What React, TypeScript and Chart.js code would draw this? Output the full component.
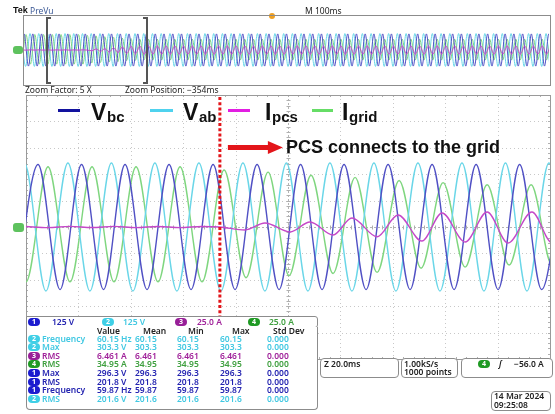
import React, { useEffect, useRef } from "react";
import { Chart, registerables } from "chart.js";

Chart.register(...registerables);

// ---------- scope settings ----------
const MAIN_DIVS_X = 10;
const MAIN_DIVS_Y = 10;
const MAIN_MS_SPAN = 200; // 20 ms/div
const PREVIEW_MS_SPAN = 1000; // 100 ms/div
const VOLTS_PER_DIV = 125;
const AMPS_PER_DIV = 25;
const CONNECT_MS = 74;

// ---------- zoomed window: extremes (ms, value) ----------
const VBC_T = [-3.8, 4.6, 13.0, 21.2, 29.6, 37.8, 46.2, 54.6, 63.0, 71.4, 79.8, 88.2, 96.6, 104.8, 113.0, 121.4, 129.8, 138.2, 146.6, 155.0, 163.4, 171.8, 180.2, 188.4, 196.8, 205.2];
const VBC_V = [-296, 296, -296, 296, -296, 296, -296, 296, -296, 296, -296, 296, -296, 296, -296, 296, -296, 296, -296, 296, -296, 296, -296, 296, -296, 296];

const VAB_T = [-8.9, -0.6, 7.6, 16.0, 24.4, 32.6, 40.8, 49.2, 57.6, 66.0, 74.4, 82.8, 91.2, 99.4, 107.6, 116.0, 124.4, 132.8, 141.2, 149.6, 158.0, 166.4, 174.8, 183.0, 191.2, 199.6, 207.6];
const VAB_V = [-303, 303, -303, 303, -303, 303, -303, 303, -303, 303, -303, 303, -303, 303, -303, 303, -303, 303, -303, 303, -303, 303, -303, 303, -303, 303, -303];

const IGRID_T = [-8.4, 0, 8.4, 16.8, 25.2, 33.6, 42.0, 50.4, 58.8, 67.2, 75.6, 84.0, 92.4, 100.4, 108.8, 117.2, 125.6, 134.0, 142.4, 150.8, 159.2, 167.6, 176.0, 184.4, 192.8, 200.8, 209.2];
const IGRID_A = [57, -52, 57, -52, 57, -52, 57, -52, 57, -52, 54, -48, 52, -46, 49, -44, 47, -43, 44, -39, 42, -38, 40, -36, 40, -36, 40];

const IPCS_T = [0, 8.4, 16.8, 25.2, 33.6, 42.0, 50.4, 58.8, 67.2, 74.0, 83.6, 91.2, 100.8, 108.4, 117.2, 124.4, 134.0, 142.0, 151.1, 158.8, 167.6, 176.0, 184.0, 193.1, 200.8, 209.0];
const IPCS_A = [0.5, -0.6, 0.6, -0.5, 0.6, -0.6, 0.5, -0.6, 0.5, 0, -2.8, 3.8, -4.7, 4.7, -7.6, 8.5, -9.2, 11.4, -13.3, 13.3, -14.2, 14.2, -15.2, 14.2, -15, 14.5];

// ---------- full record preview: successive extremes, one every half cycle ----------
const PREVIEW_HALF_MS = 8.33;
const PREVIEW_VBC_START = -8.2;
const PREVIEW_VAB_START = -5.2;
const PREVIEW_IGRID_START = -4.4;
const PREVIEW_IPCS_START = -4.2;
const PREVIEW_VBC = [
  -296, 296, -296, 296, -296, 296, -296, 296, -296, 296, -296, 296, -296, 296, -296, 296, -296, 296, -296, 296,
  -296, 296, -296, 296, -296, 296, -296, 296, -296, 296, -296, 296, -296, 296, -296, 296, -296, 296, -296, 296,
  -296, 296, -296, 296, -296, 296, -296, 296, -296, 296, -296, 296, -296, 296, -296, 296, -296, 296, -296, 296,
  -296, 296, -296, 296, -296, 296, -296, 296, -296, 296, -296, 296, -296, 296, -296, 296, -296, 296, -296, 296,
  -296, 296, -296, 296, -296, 296, -296, 296, -296, 296, -296, 296, -296, 296, -296, 296, -296, 296, -296, 296,
  -296, 296, -296, 296, -296, 296, -296, 296, -296, 296, -296, 296, -296, 296, -296, 296, -296, 296, -296, 296,
  -296, 296, -296, 296,
];
const PREVIEW_VAB = [
  303, -303, 303, -303, 303, -303, 303, -303, 303, -303, 303, -303, 303, -303, 303, -303, 303, -303, 303, -303,
  303, -303, 303, -303, 303, -303, 303, -303, 303, -303, 303, -303, 303, -303, 303, -303, 303, -303, 303, -303,
  303, -303, 303, -303, 303, -303, 303, -303, 303, -303, 303, -303, 303, -303, 303, -303, 303, -303, 303, -303,
  303, -303, 303, -303, 303, -303, 303, -303, 303, -303, 303, -303, 303, -303, 303, -303, 303, -303, 303, -303,
  303, -303, 303, -303, 303, -303, 303, -303, 303, -303, 303, -303, 303, -303, 303, -303, 303, -303, 303, -303,
  303, -303, 303, -303, 303, -303, 303, -303, 303, -303, 303, -303, 303, -303, 303, -303, 303, -303, 303, -303,
  303, -303, 303, -303,
];
const PREVIEW_IGRID = [
  -52, 57, -52, 57, -52, 57, -52, 57, -52, 57, -52, 57, -52, 57, -52,
  54, -48, 52, -46, 49, -44, 47, -43, 44, -39, 42, -38, 40, -36, 40,
  -37, 40, -37, 40, -37, 40, -37, 40, -37, 40, -37, 40, -37, 40, -37, 40, -37, 40, -37, 40,
  -37, 40, -37, 40, -37, 40, -37, 40, -37, 40, -37, 40, -37, 40, -37, 40, -37, 40, -37, 40,
  -37, 40, -37, 40, -37, 40, -37, 40, -37, 40, -37, 40, -37, 40, -37, 40, -37, 40, -37, 40,
  -37, 40, -37, 40, -37, 40, -37, 40, -37, 40, -37, 40, -37, 40, -37, 40, -37, 40, -37, 40,
  -37, 40, -37, 40, -37, 40, -37, 40, -37, 40, -37, 40, -37, 40,
];
const PREVIEW_IPCS = [
  0.5, -0.6, 0.6, -0.5, 0.6, -0.6, 0.5, -0.6, 0.5, -0.5, 0.6, -0.6, 0.5, -0.5, 0.6, -0.4,
  -2.8, 3.8, -4.7, 4.7, -7.6, 8.5, -9.2, 11.4, -13.3, 13.3, -14.2, 14.2, -15.2, 14.2,
  -15, 14.5, -15, 14.5, -15, 14.5, -15, 14.5, -15, 14.5, -15, 14.5, -15, 14.5, -15, 14.5, -15, 14.5, -15, 14.5,
  -15, 14.5, -15, 14.5, -15, 14.5, -15, 14.5, -15, 14.5, -15, 14.5, -15, 14.5, -15, 14.5, -15, 14.5, -15, 14.5,
  -15, 14.5, -15, 14.5, -15, 14.5, -15, 14.5, -15, 14.5, -15, 14.5, -15, 14.5, -15, 14.5, -15, 14.5, -15, 14.5,
  -15, 14.5, -15, 14.5, -15, 14.5, -15, 14.5, -15, 14.5, -15, 14.5, -15, 14.5, -15, 14.5, -15, 14.5, -15, 14.5,
  -15, 14.5, -15, 14.5, -15, 14.5, -15, 14.5, -15, 14.5, -15, 14.5, -15, 14.5,
];

// ---------- readouts ----------
const CHANNEL_SCALES = ["125 V", "125 V", "25.0 A", "25.0 A"];
const MEAS_HEADERS = ["Value", "Mean", "Min", "Max", "Std Dev"];
const MEAS_CH = [2, 2, 3, 4, 1, 1, 1, 2];
const MEAS_NAME = ["Frequency", "Max", "RMS", "RMS", "Max", "RMS", "Frequency", "RMS"];
const MEAS_VALUE = ["60.15 Hz", "303.3 V", "6.461 A", "34.95 A", "296.3 V", "201.8 V", "59.87 Hz", "201.6 V"];
const MEAS_MEAN = ["60.15", "303.3", "6.461", "34.95", "296.3", "201.8", "59.87", "201.6"];
const MEAS_MIN = ["60.15", "303.3", "6.461", "34.95", "296.3", "201.8", "59.87", "201.6"];
const MEAS_MAX = ["60.15", "303.3", "6.461", "34.95", "296.3", "201.8", "59.87", "201.6"];
const MEAS_STD = ["0.000", "0.000", "0.000", "0.000", "0.000", "0.000", "0.000", "0.000"];

// ---------- colours ----------
const TRACE = { vbc: "#5050c4", vab: "#6ad6e8", ipcs: "#c548c8", igrid: "#7fd67f" };
const BADGE: Record<number, string> = { 1: "#1b1bcf", 2: "#3fcfe6", 3: "#981f98", 4: "#1f9a24" };
const CHTXT: Record<number, string> = { 1: "#2323b0", 2: "#40c8e2", 3: "#a0229a", 4: "#3fa03f" };
const FONT = "'Noto Sans', 'DejaVu Sans', sans-serif";
const BOLD = "'Liberation Sans', Arial, sans-serif";

function pts(ts: number[], vs: number[], perDiv: number) {
  return ts.map((t, i) => ({ x: t, y: vs[i] / perDiv }));
}
function seq(start: number, vs: number[], perDiv: number) {
  return vs.map((v, i) => ({ x: start + i * PREVIEW_HALF_MS, y: v / perDiv }));
}
function ds(label: string, data: any[], color: string, order: number, width: number) {
  return {
    label,
    data,
    borderColor: color,
    borderWidth: width,
    pointRadius: 0,
    cubicInterpolationMode: "monotone" as const,
    fill: false,
    order,
  };
}

const graticule = {
  id: "graticule",
  beforeDatasetsDraw(chart: any) {
    const { ctx, chartArea: a } = chart;
    const dx = (a.right - a.left) / MAIN_DIVS_X;
    const dy = (a.bottom - a.top) / MAIN_DIVS_Y;
    const cx = Math.round(a.left + dx * (MAIN_DIVS_X / 2)) + 0.5;
    const cy = Math.round(a.top + dy * (MAIN_DIVS_Y / 2)) + 0.5;
    ctx.save();
    ctx.lineWidth = 1;
    ctx.strokeStyle = "#c8c8c8";
    ctx.setLineDash([1, 3]);
    ctx.beginPath();
    for (let i = 1; i < MAIN_DIVS_X; i++) {
      const x = Math.round(a.left + i * dx) + 0.5;
      ctx.moveTo(x, a.top);
      ctx.lineTo(x, a.bottom);
    }
    for (let j = 1; j < MAIN_DIVS_Y; j++) {
      const y = Math.round(a.top + j * dy) + 0.5;
      ctx.moveTo(a.left, y);
      ctx.lineTo(a.right, y);
    }
    ctx.stroke();
    ctx.setLineDash([2, 2]);
    ctx.strokeStyle = "#b4b4b4";
    ctx.beginPath();
    ctx.moveTo(a.left, cy);
    ctx.lineTo(a.right, cy);
    ctx.moveTo(cx, a.top);
    ctx.lineTo(cx, a.bottom);
    ctx.stroke();
    ctx.setLineDash([]);
    ctx.strokeStyle = "#b0b0b0";
    ctx.beginPath();
    for (let k = 1; k < MAIN_DIVS_X * 5; k++) {
      const x = Math.round(a.left + (k * dx) / 5) + 0.5;
      ctx.moveTo(x, cy - 2);
      ctx.lineTo(x, cy + 2);
      ctx.moveTo(x, a.top);
      ctx.lineTo(x, a.top + 2);
      ctx.moveTo(x, a.bottom - 2);
      ctx.lineTo(x, a.bottom);
    }
    for (let k = 1; k < MAIN_DIVS_Y * 5; k++) {
      const y = Math.round(a.top + (k * dy) / 5) + 0.5;
      ctx.moveTo(cx - 2, y);
      ctx.lineTo(cx + 2, y);
      ctx.moveTo(a.left, y);
      ctx.lineTo(a.left + 2, y);
      ctx.moveTo(a.right - 2, y);
      ctx.lineTo(a.right, y);
    }
    ctx.stroke();
    ctx.strokeStyle = "#9a9a9a";
    ctx.strokeRect(Math.round(a.left) + 0.5, Math.round(a.top) + 0.5, Math.round(a.right - a.left), Math.round(a.bottom - a.top));
    ctx.restore();
  },
};

const connectMarker = {
  id: "connectMarker",
  afterDatasetsDraw(chart: any) {
    const { ctx, chartArea: a } = chart;
    const x = chart.scales.x.getPixelForValue(CONNECT_MS);
    ctx.save();
    ctx.strokeStyle = "#e3151a";
    ctx.lineWidth = 3;
    ctx.setLineDash([3, 2.2]);
    ctx.beginPath();
    ctx.moveTo(x, a.top + 2);
    ctx.lineTo(x, a.bottom);
    ctx.stroke();
    ctx.setLineDash([]);
    const y = a.top + 52.5;
    ctx.fillStyle = "#e3151a";
    ctx.fillRect(x + 8, y - 2.5, 42, 5);
    ctx.beginPath();
    ctx.moveTo(x + 48, y - 6.5);
    ctx.lineTo(x + 63, y);
    ctx.lineTo(x + 48, y + 6.5);
    ctx.closePath();
    ctx.fill();
    ctx.restore();
  },
};

const abs = (left: number, top: number, extra: React.CSSProperties = {}): React.CSSProperties => ({
  position: "absolute",
  left,
  top,
  whiteSpace: "nowrap",
  ...extra,
});

function Badge({ ch, left, top }: { ch: number; left: number; top: number }) {
  return (
    <div
      style={abs(left, top, {
        width: 12,
        height: 8,
        borderRadius: 4,
        background: BADGE[ch],
        color: "#fff",
        fontSize: 7,
        lineHeight: "8px",
        textAlign: "center",
        fontFamily: FONT,
        fontWeight: "bold",
      })}
    >
      {ch}
    </div>
  );
}

export default function App() {
  const mainRef = useRef<HTMLCanvasElement>(null);
  const prevRef = useRef<HTMLCanvasElement>(null);

  useEffect(() => {
    const main = new Chart(mainRef.current as HTMLCanvasElement, {
      type: "line",
      data: {
        datasets: [
          ds("Ipcs", pts(IPCS_T, IPCS_A, AMPS_PER_DIV), TRACE.ipcs, 0, 1.4),
          ds("Vbc", pts(VBC_T, VBC_V, VOLTS_PER_DIV), TRACE.vbc, 1, 1.4),
          ds("Vab", pts(VAB_T, VAB_V, VOLTS_PER_DIV), TRACE.vab, 2, 1.4),
          ds("Igrid", pts(IGRID_T, IGRID_A, AMPS_PER_DIV), TRACE.igrid, 3, 1.4),
        ],
      },
      options: {
        animation: false,
        responsive: false,
        devicePixelRatio: 1,
        events: [],
        layout: { padding: { left: 26, top: 95, right: 5, bottom: 55 } },
        plugins: { legend: { display: false }, tooltip: { enabled: false } },
        scales: {
          x: { type: "linear", min: 0, max: MAIN_MS_SPAN, display: false },
          y: { type: "linear", min: -MAIN_DIVS_Y / 2, max: MAIN_DIVS_Y / 2, display: false },
        },
      },
      plugins: [graticule, connectMarker],
    });
    const prev = new Chart(prevRef.current as HTMLCanvasElement, {
      type: "line",
      data: {
        datasets: [
          ds("Ipcs", seq(PREVIEW_IPCS_START, PREVIEW_IPCS, AMPS_PER_DIV), TRACE.ipcs, 0, 1),
          ds("Vbc", seq(PREVIEW_VBC_START, PREVIEW_VBC, VOLTS_PER_DIV), TRACE.vbc, 1, 1),
          ds("Igrid", seq(PREVIEW_IGRID_START, PREVIEW_IGRID, AMPS_PER_DIV), TRACE.igrid, 2, 1),
          ds("Vab", seq(PREVIEW_VAB_START, PREVIEW_VAB, VOLTS_PER_DIV), TRACE.vab, 3, 1),
        ],
      },
      options: {
        animation: false,
        responsive: false,
        devicePixelRatio: 1,
        events: [],
        layout: { padding: 0 },
        plugins: { legend: { display: false }, tooltip: { enabled: false } },
        scales: {
          x: { type: "linear", min: 0, max: PREVIEW_MS_SPAN, display: false },
          y: { type: "linear", min: -5, max: 5, display: false },
        },
      },
    });
    return () => {
      main.destroy();
      prev.destroy();
    };
  }, []);

  const small: React.CSSProperties = { fontFamily: FONT, fontSize: 8.5, lineHeight: "10px", color: "#222", fontWeight: 600 };
  const rowTop = (k: number) => 333.5 + k * 8.65;
  const colX = [97, 135, 177, 220, 267];
  const headX = [97, 143, 188, 232, 273];
  const legendBig: React.CSSProperties = { fontFamily: BOLD, fontWeight: "bold", fontSize: 23, lineHeight: "23px", color: "#111" };
  const legendSub: React.CSSProperties = { fontFamily: BOLD, fontWeight: "bold", fontSize: 15, lineHeight: "15px", color: "#111" };

  return (
    <div style={{ position: "absolute", left: 0, top: 0, width: 555, height: 414, background: "#fff", overflow: "hidden" }}>
      <canvas ref={mainRef} width={555} height={414} style={{ position: "absolute", left: 0, top: 0, width: 555, height: 414 }} />

      {/* header */}
      <div style={abs(13, 5, { fontFamily: BOLD, fontWeight: "bold", fontSize: 9, lineHeight: "11px", color: "#111" })}>Tek</div>
      <div style={abs(30, 5, { ...small, fontWeight: 400, color: "#3d5a96", lineHeight: "11px" })}>PreVu</div>
      <div style={abs(305, 5, { ...small, fontWeight: 400, lineHeight: "11px" })}>M 100ms</div>
      <div style={abs(269, 13, { width: 6, height: 6, borderRadius: 3, background: "#f0a020" })} />

      {/* preview */}
      <div style={abs(23, 15, { width: 526, height: 69, border: "1px solid #8c8c8c" })} />
      <canvas ref={prevRef} width={525} height={68} style={{ position: "absolute", left: 24, top: 16, width: 525, height: 68 }} />
      <div style={abs(13, 46, { width: 10, height: 8, borderRadius: 3, background: "#5ec25e" })} />
      <div style={abs(46, 17, { width: 2, height: 67, background: "#555" })} />
      <div style={abs(46, 17, { width: 5, height: 2, background: "#555" })} />
      <div style={abs(46, 82, { width: 5, height: 2, background: "#555" })} />
      <div style={abs(146, 17, { width: 2, height: 67, background: "#555" })} />
      <div style={abs(143, 17, { width: 5, height: 2, background: "#555" })} />
      <div style={abs(143, 82, { width: 5, height: 2, background: "#555" })} />
      <div style={abs(25, 85, { ...small, fontWeight: 400 })}>Zoom Factor: 5 X</div>
      <div style={abs(125, 85, { ...small, fontWeight: 400 })}>Zoom Position: −354ms</div>

      {/* ground marker of the zoomed window */}
      <div style={abs(13, 223, { width: 11, height: 9, borderRadius: 3, background: "#5ec25e" })} />

      {/* legend annotation */}
      <div style={abs(58, 109, { width: 22, height: 2.5, background: "#12129e" })} />
      <div style={abs(91, 100.5, legendBig)}>V</div>
      <div style={abs(107, 109, legendSub)}>bc</div>
      <div style={abs(150, 109, { width: 23, height: 2.5, background: "#4fd2ee" })} />
      <div style={abs(183, 100.5, legendBig)}>V</div>
      <div style={abs(199, 109, legendSub)}>ab</div>
      <div style={abs(228, 109, { width: 22, height: 2.5, background: "#e21ee2" })} />
      <div style={abs(265, 100.5, legendBig)}>I</div>
      <div style={abs(272, 109, legendSub)}>pcs</div>
      <div style={abs(312, 109, { width: 21, height: 2.5, background: "#66dd66" })} />
      <div style={abs(342, 100.5, legendBig)}>I</div>
      <div style={abs(349, 109, legendSub)}>grid</div>
      <div style={abs(286, 138, { fontFamily: BOLD, fontWeight: "bold", fontSize: 18, lineHeight: "18px", color: "#111" })}>
        PCS connects to the grid
      </div>

      {/* channel bar */}
      <div style={abs(26, 316, { width: 290, height: 10, border: "1px solid #8c8c8c", borderRadius: "0 3px 3px 0", background: "#fff" })} />
      {[1, 2, 3, 4].map((ch, i) => {
        const bx = [28, 102, 175, 248][i];
        const tx = [52, 123, 197, 269][i];
        return (
          <React.Fragment key={ch}>
            <Badge ch={ch} left={bx} top={317.5} />
            <div style={abs(tx, 316.5, { ...small, color: CHTXT[ch] })}>{CHANNEL_SCALES[i]}</div>
          </React.Fragment>
        );
      })}

      {/* measurement table */}
      <div style={abs(26, 327, { width: 290, height: 82, border: "1px solid #8c8c8c", borderTop: "none", borderRadius: "0 0 4px 4px", background: "#fff" })} />
      {MEAS_HEADERS.map((h, i) => (
        <div key={h} style={abs(headX[i], 325.5, small)}>
          {h}
        </div>
      ))}
      {MEAS_CH.map((ch, k) => {
        const c = CHTXT[ch];
        const top = rowTop(k);
        const cells = [MEAS_VALUE[k], MEAS_MEAN[k], MEAS_MIN[k], MEAS_MAX[k], MEAS_STD[k]];
        return (
          <React.Fragment key={k}>
            <Badge ch={ch} left={28} top={top + 1} />
            <div style={abs(42, top, { ...small, color: c })}>{MEAS_NAME[k]}</div>
            {cells.map((s, j) => (
              <div key={j} style={abs(colX[j], top, { ...small, color: c })}>
                {s}
              </div>
            ))}
          </React.Fragment>
        );
      })}

      {/* right readouts */}
      <div style={abs(320, 358, { width: 77, height: 18, border: "1px solid #8c8c8c", borderRadius: 4, background: "#fff" })} />
      <div style={abs(324, 358.5, small)}>Z 20.0ms</div>
      <div style={abs(401, 358, { width: 55, height: 18, border: "1px solid #8c8c8c", borderRadius: 4, background: "#fff" })} />
      <div style={abs(404, 358.5, small)}>1.00kS/s</div>
      <div style={abs(404, 367, small)}>1000 points</div>
      <div style={abs(461, 358, { width: 90, height: 18, border: "1px solid #8c8c8c", borderRadius: 4, background: "#fff" })} />
      <Badge ch={4} left={478} top={359.5} />
      <div style={abs(499, 358.5, { ...small, fontStyle: "italic" })}>ʃ</div>
      <div style={abs(514, 358.5, small)}>−56.0 A</div>
      <div style={abs(491, 391, { width: 58, height: 18, border: "1px solid #8c8c8c", borderRadius: 4, background: "#fff" })} />
      <div style={abs(494, 391, small)}>14 Mar 2024</div>
      <div style={abs(494, 399.5, small)}>09:25:08</div>
    </div>
  );
}
